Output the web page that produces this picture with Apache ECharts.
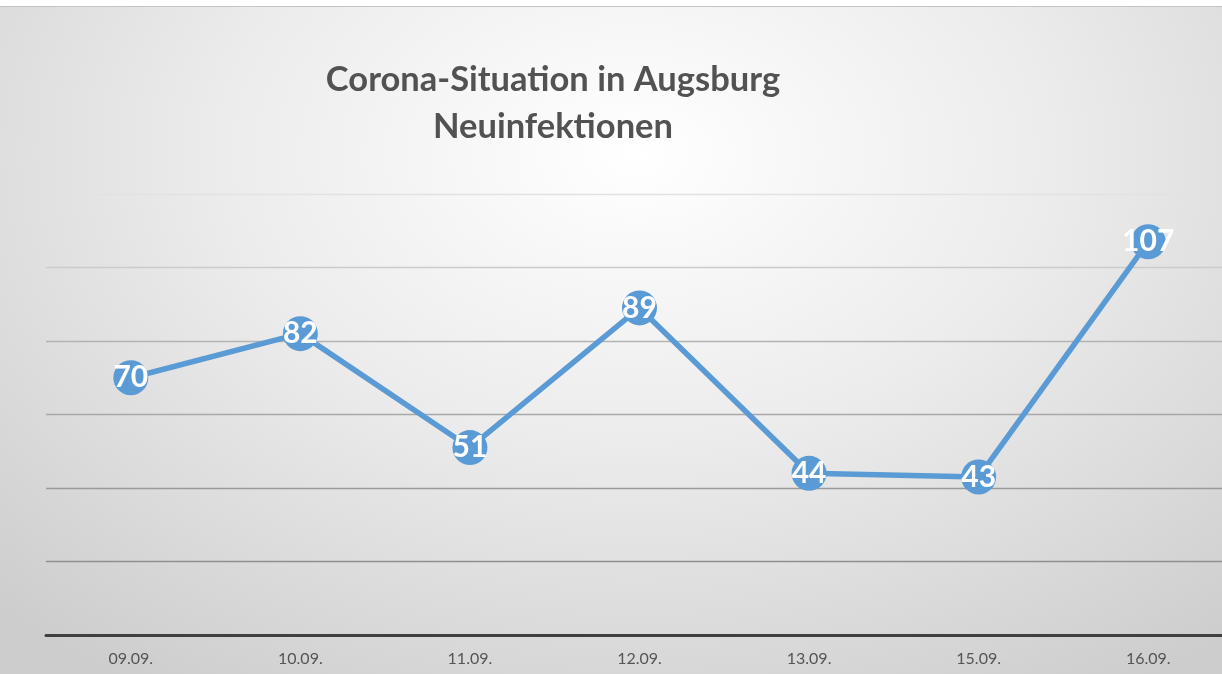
<!DOCTYPE html>
<html>
<head>
<meta charset="utf-8">
<script src="https://cdn.jsdelivr.net/npm/echarts@6/dist/echarts.min.js"></script>
<style>
html,body{margin:0;padding:0;background:#ffffff;width:1222px;height:674px;overflow:hidden;position:relative;}
#wrap{position:absolute;left:0;top:6px;width:1222px;height:668px;border-top:1px solid #c4c4c4;overflow:hidden;
background:radial-gradient(ellipse 75% 95% at 52% 22%, #ffffff 0%, #ececec 45%, #cdcdcd 100%);}
#chart{position:absolute;left:0;top:0;width:1233px;height:667px;}
</style>
</head>
<body>
<div id="wrap"><div id="chart"></div></div>
<script>
const categories = ['09.09.', '10.09.', '11.09.', '12.09.', '13.09.', '15.09.', '16.09.'];
const values = [70, 82, 51, 89, 44, 43, 107];
const titleLines = ['Corona-Situation in Augsburg', 'Neuinfektionen'];

const chart = echarts.init(document.getElementById('chart'));
chart.setOption({
  animation: false,
  title: {
    text: titleLines.join('\n'),
    left: 548,
    textAlign: 'center',
    top: 44,
    textStyle: {
      fontFamily: 'Lato',
      fontWeight: 'bold',
      fontSize: 34.5,
      color: '#525252',
      lineHeight: 47
    }
  },
  grid: { left: 46, right: 0, top: 187, bottom: 39, containLabel: false },
  xAxis: {
    type: 'category',
    data: categories,
    boundaryGap: true,
    axisLine: { show: true, lineStyle: { color: '#404040', width: 3 } },
    axisTick: { show: false },
    axisLabel: { fontFamily: 'Lato', fontSize: 16, color: '#555555', margin: 16 },
    splitLine: { show: false }
  },
  yAxis: {
    type: 'value',
    min: 0,
    max: 120,
    interval: 20,
    axisLine: { show: false },
    axisTick: { show: false },
    axisLabel: { show: false },
    splitLine: {
      show: true,
      lineStyle: {
        color: ['#8a8a8a', '#8f8f8f', '#9a9a9a', '#a8a8a8', '#b3b3b3', '#cbcbcb', '#e2e2e2'],
        width: 1.3
      }
    }
  },
  series: [{
    type: 'line',
    data: values,
    symbol: 'circle',
    symbolSize: 35,
    itemStyle: { color: '#5b9bd5' },
    lineStyle: { color: '#5b9bd5', width: 5.5 },
    label: {
      show: true,
      position: 'inside',
      fontFamily: 'Lato',
      fontWeight: 'bold',
      fontSize: 30,
      color: '#ffffff'
    }
  }]
});
</script>
</body>
</html>
